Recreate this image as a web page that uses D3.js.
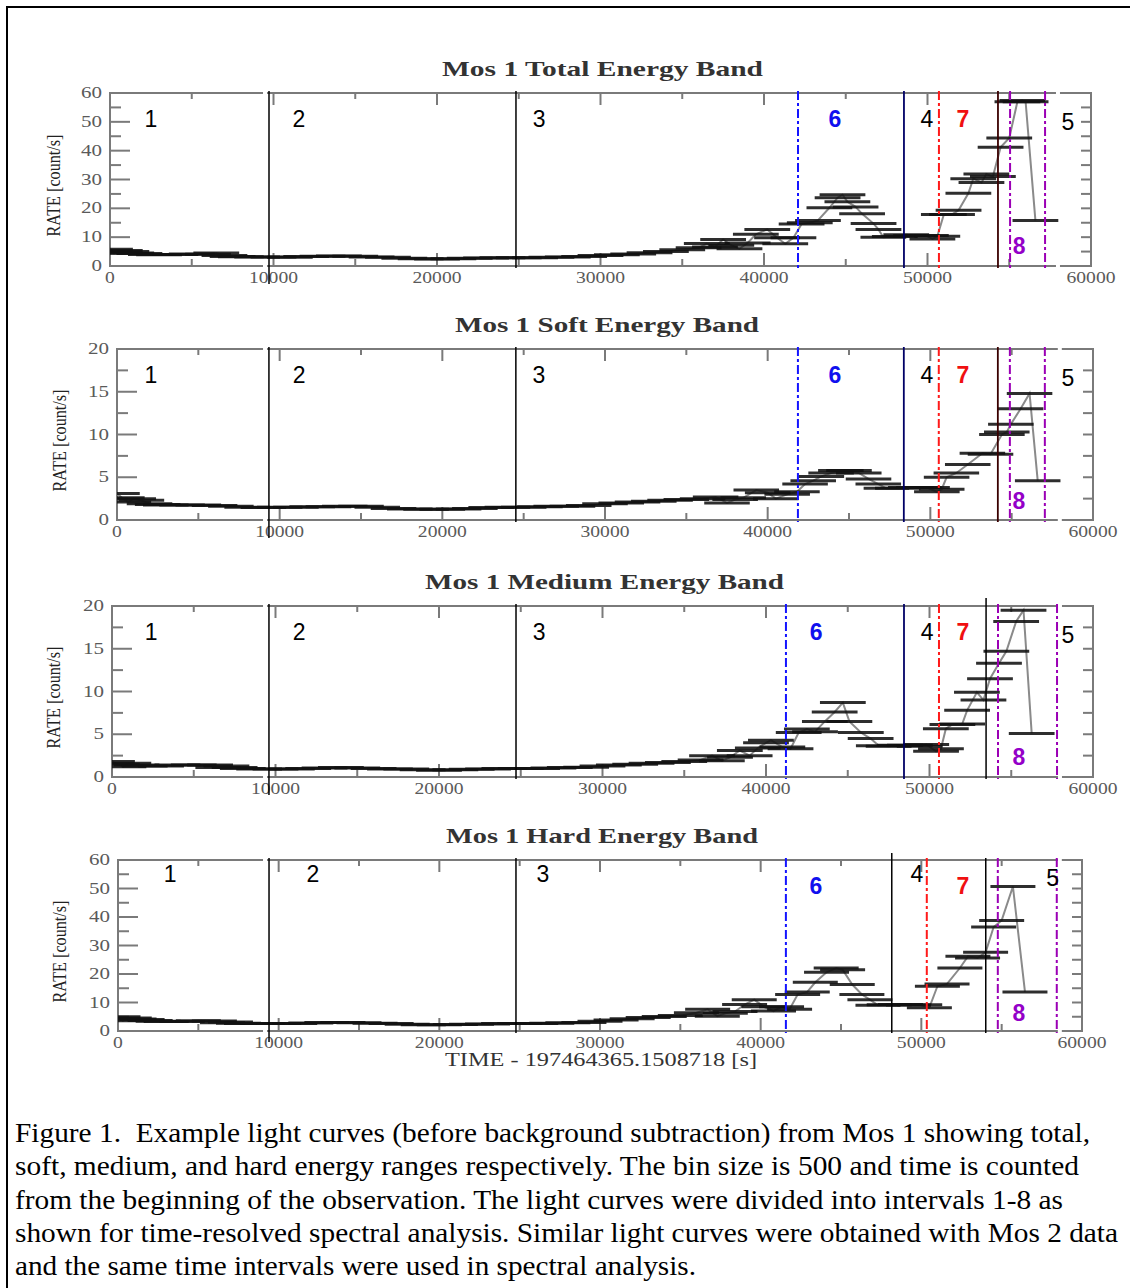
<!DOCTYPE html>
<html>
<head>
<meta charset="utf-8">
<script src="https://cdn.jsdelivr.net/npm/d3@7"></script>
<style>
  body { margin: 0; background: #fff; }
  svg { display: block; }
  .serif { font-family: 'Liberation Serif', 'Times New Roman', Times, serif; }
  .sans { font-family: 'Liberation Sans', Arial, Helvetica, sans-serif; }
</style>
</head>
<body>
<svg id="fig" width="1130" height="1288"></svg>
<script>
// light curves, [time (s), rate (count/s)]
var totalData = [[0,5.8],[250,4.4],[600,5.4],[1000,5.0],[1300,4.5],[1800,4.3],[2500,4.0],[3000,3.9],[4000,4.0],[5000,4.2],[6000,4.1],[6500,4.5],[7000,3.6],[7500,3.3],[8000,3.2],[9000,3.1],[10000,3.1],[11000,3.0],[12000,3.3],[13000,3.4],[14000,3.5],[15000,3.4],[16000,3.1],[17000,3.0],[18000,2.7],[19000,2.5],[20000,2.4],[21000,2.5],[22000,2.7],[23000,2.8],[24000,2.9],[25000,2.9],[26000,2.9],[27000,3.0],[28000,3.1],[29000,3.3],[30000,3.6],[31000,3.9],[32000,4.2],[33000,4.6],[34000,5.0],[35000,5.6],[36000,6.3],[36500,7.8],[37000,6.6],[37500,9.2],[38000,7.2],[38500,6.0],[39000,8.0],[39500,11.0],[40200,12.7],[40800,9.8],[41300,7.7],[41800,9.8],[42300,14.6],[42800,15.0],[43300,15.8],[44000,20.2],[44500,23.7],[44800,24.7],[45100,22.3],[45600,20.5],[46000,18.1],[46700,14.7],[47000,12.7],[47300,10.0],[48000,10.2],[48700,10.8],[49300,10.5],[49900,10.6],[50300,9.4],[50600,10.3],[51000,17.9],[51500,17.9],[51900,19.3],[52500,25.2],[52800,30.3],[53300,29.0],[53600,31.9],[54000,31.0],[54470,41.2],[55000,44.4],[55500,57.0],[55800,57.4],[56000,57.0],[56600,15.8]];

var softData = [[0,3.1],[300,2.6],[700,2.1],[1000,2.5],[1500,2.3],[2000,1.9],[2500,1.8],[3000,1.75],[4000,1.75],[5000,1.75],[6000,1.7],[7000,1.6],[8000,1.5],[9000,1.45],[10000,1.5],[11000,1.5],[12000,1.55],[13000,1.55],[14000,1.6],[15000,1.6],[16000,1.5],[17000,1.35],[18000,1.3],[19000,1.25],[20000,1.25],[21000,1.3],[22000,1.35],[23000,1.45],[24000,1.5],[25000,1.5],[26000,1.55],[27000,1.6],[28000,1.6],[29000,1.7],[30000,1.9],[31000,2.0],[32000,2.1],[33000,2.2],[34000,2.3],[35000,2.4],[36000,2.5],[36800,2.7],[37500,2.0],[38000,2.4],[38500,2.6],[39300,3.5],[40000,3.2],[40500,2.5],[41200,3.0],[41800,3.3],[42300,4.2],[42800,4.6],[43300,5.1],[43900,5.5],[44500,5.8],[45000,5.8],[45600,5.5],[46200,4.8],[46800,4.2],[47300,3.7],[48000,3.7],[48800,3.8],[49300,3.8],[49800,3.8],[50400,3.3],[50700,3.6],[51000,5.0],[51600,5.5],[52300,6.5],[53200,7.8],[53700,7.7],[54400,10.0],[54700,10.3],[54950,11.2],[55550,13.0],[56100,14.8],[56600,4.6]];

var mediumData = [[0,1.8],[300,1.5],[700,1.2],[1000,1.6],[1500,1.4],[2000,1.3],[3000,1.3],[4000,1.4],[5000,1.4],[6000,1.4],[6500,1.1],[7000,1.3],[7500,1.1],[8000,1.0],[9000,0.95],[10000,0.95],[11000,0.95],[12000,1.0],[13000,1.05],[14000,1.1],[15000,1.05],[16000,1.0],[17000,0.95],[18000,0.95],[19000,0.85],[20000,0.8],[21000,0.85],[22000,0.9],[23000,0.95],[24000,1.0],[25000,1.0],[26000,1.0],[27000,1.05],[28000,1.1],[29000,1.15],[30000,1.3],[31000,1.4],[32000,1.5],[33000,1.6],[34000,1.7],[35000,1.8],[36000,2.0],[36700,2.5],[37300,1.9],[37800,2.3],[38400,3.1],[39000,2.5],[39500,3.4],[40000,4.0],[40300,4.3],[41000,3.5],[41500,3.3],[42000,5.2],[42500,5.6],[43000,5.3],[43600,6.5],[44200,7.6],[44700,8.7],[45100,6.5],[45800,5.2],[46400,4.5],[46900,3.65],[47500,3.6],[48200,3.7],[48800,3.7],[49400,3.6],[49800,3.8],[50400,3.0],[50700,3.3],[51000,5.65],[51400,6.15],[52000,6.2],[52300,7.8],[52900,9.9],[53300,9.0],[53700,11.5],[54250,13.3],[54700,14.7],[55300,18.2],[55750,19.5],[56250,5.1]];

var hardData = [[0,5.0],[300,3.6],[700,4.6],[1000,4.2],[1500,4.0],[2000,3.7],[2500,3.4],[3000,3.3],[4000,3.3],[5000,3.6],[6000,3.5],[6500,2.9],[7000,3.2],[7500,2.7],[8000,2.6],[9000,2.6],[10000,2.6],[11000,2.6],[12000,2.8],[13000,3.0],[14000,3.0],[15000,2.9],[16000,2.7],[17000,2.6],[18000,2.4],[19000,2.2],[20000,2.2],[21000,2.3],[22000,2.4],[23000,2.5],[24000,2.6],[25000,2.6],[26000,2.6],[27000,2.7],[28000,2.9],[29000,3.0],[30000,3.4],[31000,3.9],[32000,4.3],[33000,4.7],[34000,5.1],[35000,5.4],[36000,6.4],[36700,7.6],[37300,5.2],[37800,6.2],[38400,6.8],[39000,9.3],[39600,11.0],[40200,8.5],[40800,7.0],[41300,8.5],[41800,7.6],[42300,12.8],[42900,13.7],[43400,17.1],[44100,20.6],[44700,22.1],[45100,21.5],[45700,16.3],[46300,12.8],[46800,11.0],[47300,9.0],[48000,9.2],[48700,9.3],[49200,9.1],[49900,9.2],[50500,8.2],[51000,15.7],[51600,16.5],[52400,22.1],[52900,26.2],[53500,25.6],[54000,27.6],[54500,36.5],[55000,38.8],[55700,50.7],[56450,13.7]];

var bandTitles = ['Mos 1 Total Energy Band', 'Mos 1 Soft Energy Band', 'Mos 1 Medium Energy Band', 'Mos 1 Hard Energy Band'];
var rateMax = [60, 20, 20, 60];
var rateMajor = [10, 5, 5, 10];
var timeTicks = [0, 10000, 20000, 30000, 40000, 50000, 60000];
var binHalf = 1400;

// interval boundaries (s), one row per panel
var cutTimes = [
  [9725, 24830, 42080, 48560, 50700, 54310, 55050, 57190],
  [9340, 24520, 41860, 48370, 50520, 54150, 54890, 57040],
  [9600, 24710, 41220, 48440, 50580, 53460, 54190, 57800],
  [9400, 24770, 41570, 48160, 50340, 54010, 54760, 58430]
];
var cutKinds = [
  ['k', 'k', 'blue', 'navy', 'red', 'dark', 'purple', 'purple'],
  ['k', 'k', 'blue', 'navy', 'red', 'dark', 'purple', 'purple'],
  ['k', 'k', 'blue', 'navy', 'red', 'k', 'purple', 'purple'],
  ['k', 'k', 'blue', 'k', 'red', 'k', 'purple', 'purple']
];
var gapTimes = [[9480, 57980], [9100, 57960], [9360, 57980], [9150, 58620]];

var intervalNames = ['1', '2', '3', '6', '4', '7', '5', '8'];
var labelTimes = [
  [2500, 11560, 26240, 44340, 49970, 52170, 58590, 55600],
  [2090, 11190, 25940, 44130, 49790, 52000, 58450, 55440],
  [2390, 11440, 26120, 43060, 49850, 52050, 58470, 55470],
  [3240, 12130, 26450, 43430, 49720, 52580, 58180, 56070]
];
var labelLevels = [
  [0.85, 0.85, 0.85, 0.85, 0.85, 0.85, 0.83, 0.115],
  [0.85, 0.85, 0.85, 0.85, 0.85, 0.85, 0.83, 0.11],
  [0.85, 0.85, 0.85, 0.85, 0.85, 0.85, 0.83, 0.115],
  [0.92, 0.92, 0.92, 0.85, 0.92, 0.85, 0.895, 0.105]
];

var captionLines = [
  'Figure 1.  Example light curves (before background subtraction) from Mos 1 showing total,',
  'soft, medium, and hard energy ranges respectively. The bin size is 500 and time is counted',
  'from the beginning of the observation. The light curves were divided into intervals 1-8 as',
  'shown for time-resolved spectral analysis. Similar light curves were obtained with Mos 2 data',
  'and the same time intervals were used in spectral analysis.'
];
var captionWidths = [1075, 1064, 1048, 1103, 681];

var bands = [totalData, softData, mediumData, hardData];

var boxes = [
  {left: 110, right: 1091, top: 93, bottom: 266, yLabelX: 55},
  {left: 117, right: 1093, top: 349, bottom: 520, yLabelX: 61},
  {left: 112, right: 1093, top: 606, bottom: 777, yLabelX: 55},
  {left: 118, right: 1082, top: 860, bottom: 1031, yLabelX: 61}
];

var cutStyle = {
  k:      {color: '#000', dash: null, w: 1.5},
  navy:   {color: '#000066', dash: null, w: 1.8},
  dark:   {color: '#3a0000', dash: null, w: 1.8},
  blue:   {color: '#1414ff', dash: '9,3,3,3', w: 2},
  red:    {color: '#ff1a1a', dash: '9,3,3,3', w: 2},
  purple: {color: '#9b00b5', dash: '9,3,3,3', w: 2}
};
var labelColor = {'6': '#1010ee', '7': '#f01010', '8': '#9400c8'};

var svg = d3.select('#fig');

// outer box of the figure
svg.append('path')
  .attr('d', 'M7,1290 L7,7 L1132,7')
  .attr('fill', 'none')
  .attr('stroke', '#000')
  .attr('stroke-width', 2);

function drawPanel(i) {
  var b = boxes[i];
  var data = bands[i];
  var x = d3.scaleLinear().domain([0, 60000]).range([b.left, b.right]);
  var y = d3.scaleLinear().domain([0, rateMax[i]]).range([b.bottom, b.top]);
  var g = svg.append('g');

  g.append('clipPath').attr('id', 'clip' + i)
    .append('rect')
    .attr('x', b.left).attr('y', b.top - 4)
    .attr('width', b.right - b.left).attr('height', b.bottom - b.top + 4);

  // title
  g.append('text')
    .attr('class', 'serif')
    .attr('x', (b.left + b.right) / 2 + 2)
    .attr('y', b.top - 17)
    .attr('text-anchor', 'middle')
    .attr('font-weight', 'bold')
    .attr('font-size', 22)
    .attr('fill', '#333')
    .attr('textLength', [321, 304, 359, 312][i])
    .attr('lengthAdjust', 'spacingAndGlyphs')
    .text(bandTitles[i]);

  // frame
  g.append('rect')
    .attr('x', b.left).attr('y', b.top)
    .attr('width', b.right - b.left).attr('height', b.bottom - b.top)
    .attr('fill', 'none').attr('stroke', '#7a7a7a').attr('stroke-width', 2);

  // time ticks (major every 10000, minor every 5000), top and bottom, inward
  var minorT = d3.range(5000, 60000, 10000);
  var tickG = g.append('g').attr('stroke', '#7a7a7a').attr('stroke-width', 2);
  timeTicks.slice(1, -1).forEach(function (t) {
    tickG.append('line').attr('x1', x(t)).attr('x2', x(t)).attr('y1', b.bottom).attr('y2', b.bottom - 13);
    tickG.append('line').attr('x1', x(t)).attr('x2', x(t)).attr('y1', b.top).attr('y2', b.top + 12);
  });
  minorT.forEach(function (t) {
    tickG.append('line').attr('x1', x(t)).attr('x2', x(t)).attr('y1', b.bottom).attr('y2', b.bottom - 7);
    tickG.append('line').attr('x1', x(t)).attr('x2', x(t)).attr('y1', b.top).attr('y2', b.top + 6);
  });

  // rate ticks
  var rMajor = d3.range(rateMajor[i], rateMax[i], rateMajor[i]);
  var rMinor = d3.range(rateMajor[i] / 2, rateMax[i], rateMajor[i]);
  rMajor.forEach(function (r) {
    tickG.append('line').attr('x1', b.left).attr('x2', b.left + 20).attr('y1', y(r)).attr('y2', y(r));
    tickG.append('line').attr('x1', b.right).attr('x2', b.right - 10).attr('y1', y(r)).attr('y2', y(r));
  });
  rMinor.forEach(function (r) {
    tickG.append('line').attr('x1', b.left).attr('x2', b.left + 11).attr('y1', y(r)).attr('y2', y(r));
    tickG.append('line').attr('x1', b.right).attr('x2', b.right - 10).attr('y1', y(r)).attr('y2', y(r));
  });

  // tick labels
  g.selectAll('text.tx').data(timeTicks).enter().append('text')
    .attr('class', 'tx serif')
    .attr('x', function (t) { return x(t); })
    .attr('y', b.bottom + 17)
    .attr('text-anchor', 'middle')
    .attr('font-size', 16).attr('fill', '#5a5a5a')
    .attr('textLength', function (t) { return String(t).length * 9.8; })
    .attr('lengthAdjust', 'spacingAndGlyphs')
    .text(function (t) { return t; });

  var rLabels = d3.range(0, rateMax[i] + 1, rateMajor[i]);
  g.selectAll('text.ty').data(rLabels).enter().append('text')
    .attr('class', 'ty serif')
    .attr('x', b.left - 8)
    .attr('y', function (r) { return y(r) + 5; })
    .attr('text-anchor', 'end')
    .attr('font-size', 16).attr('fill', '#5a5a5a')
    .attr('textLength', function (r) { return String(r).length * 10.5; })
    .attr('lengthAdjust', 'spacingAndGlyphs')
    .text(function (r) { return r; });

  g.append('text')
    .attr('class', 'serif')
    .attr('transform', 'translate(' + (b.yLabelX + 5) + ',' + ((b.top + b.bottom) / 2 + 6) + ') rotate(-90)')
    .attr('text-anchor', 'middle')
    .attr('font-size', 18).attr('fill', '#222')
    .attr('textLength', 102)
    .attr('lengthAdjust', 'spacingAndGlyphs')
    .text('RATE [count/s]');

  // white erasures across the frame
  gapTimes[i].forEach(function (t) {
    g.append('line')
      .attr('x1', x(t)).attr('x2', x(t))
      .attr('y1', b.top - 3).attr('y2', b.bottom + 3)
      .attr('stroke', '#fff').attr('stroke-width', 4);
  });

  // light curve: connecting line then bin bars
  var dg = g.append('g').attr('clip-path', 'url(#clip' + i + ')');
  dg.append('path')
    .datum(data)
    .attr('d', d3.line().x(function (d) { return x(d[0]); }).y(function (d) { return y(d[1]); }))
    .attr('fill', 'none').attr('stroke', '#8a8a8a').attr('stroke-width', 2);
  dg.selectAll('line.bin').data(data).enter().append('line')
    .attr('class', 'bin')
    .attr('x1', function (d) { return x(d[0] - binHalf); })
    .attr('x2', function (d) { return x(d[0] + binHalf); })
    .attr('y1', function (d) { return y(d[1]); })
    .attr('y2', function (d) { return y(d[1]); })
    .attr('stroke', '#111').attr('stroke-opacity', 0.88).attr('stroke-width', 3);

  // interval boundaries
  cutTimes[i].forEach(function (t, j) {
    var s = cutStyle[cutKinds[i][j]];
    var y1 = b.top - 2, y2 = b.bottom + 2;
    if (j === 0 && i < 3) y2 = b.bottom + 18;
    if (i === 3 && (j === 0)) y2 = b.bottom + 11;
    if (i === 3 && (j === 3)) y1 = b.top - 7;
    if (i === 2 && j === 5) y1 = b.top - 8;
    g.append('line')
      .attr('x1', x(t)).attr('x2', x(t))
      .attr('y1', y1).attr('y2', y2)
      .attr('stroke', s.color).attr('stroke-width', s.w)
      .attr('stroke-dasharray', s.dash);
  });

  // interval numbers
  intervalNames.forEach(function (n, j) {
    var bold = labelColor[n] !== undefined;
    g.append('text')
      .attr('class', 'sans')
      .attr('x', x(labelTimes[i][j]))
      .attr('y', y(labelLevels[i][j] * rateMax[i]) + 8)
      .attr('text-anchor', 'middle')
      .attr('font-weight', bold ? 'bold' : 'normal')
      .attr('font-size', 23)
      .attr('fill', labelColor[n] || '#000')
      .text(n);
  });

  if (i === 3) {
    g.append('text')
      .attr('class', 'serif')
      .attr('x', 601).attr('y', b.bottom + 35)
      .attr('text-anchor', 'middle')
      .attr('font-size', 19).attr('fill', '#333')
      .attr('textLength', 312)
      .attr('lengthAdjust', 'spacingAndGlyphs')
      .text('TIME - 197464365.1508718 [s]');
  }
}

bands.forEach(function (d, i) { drawPanel(i); });

// caption
svg.append('g').selectAll('text').data(captionLines).enter().append('text')
  .attr('class', 'serif')
  .attr('x', 15)
  .attr('y', function (d, i) { return 1142 + i * 33.3; })
  .attr('font-size', 28)
  .attr('fill', '#000')
  .style('white-space', 'pre')
  .attr('textLength', function (d, i) { return captionWidths[i]; })
  .attr('lengthAdjust', 'spacingAndGlyphs')
  .text(function (d) { return d; });
</script>
</body>
</html>
